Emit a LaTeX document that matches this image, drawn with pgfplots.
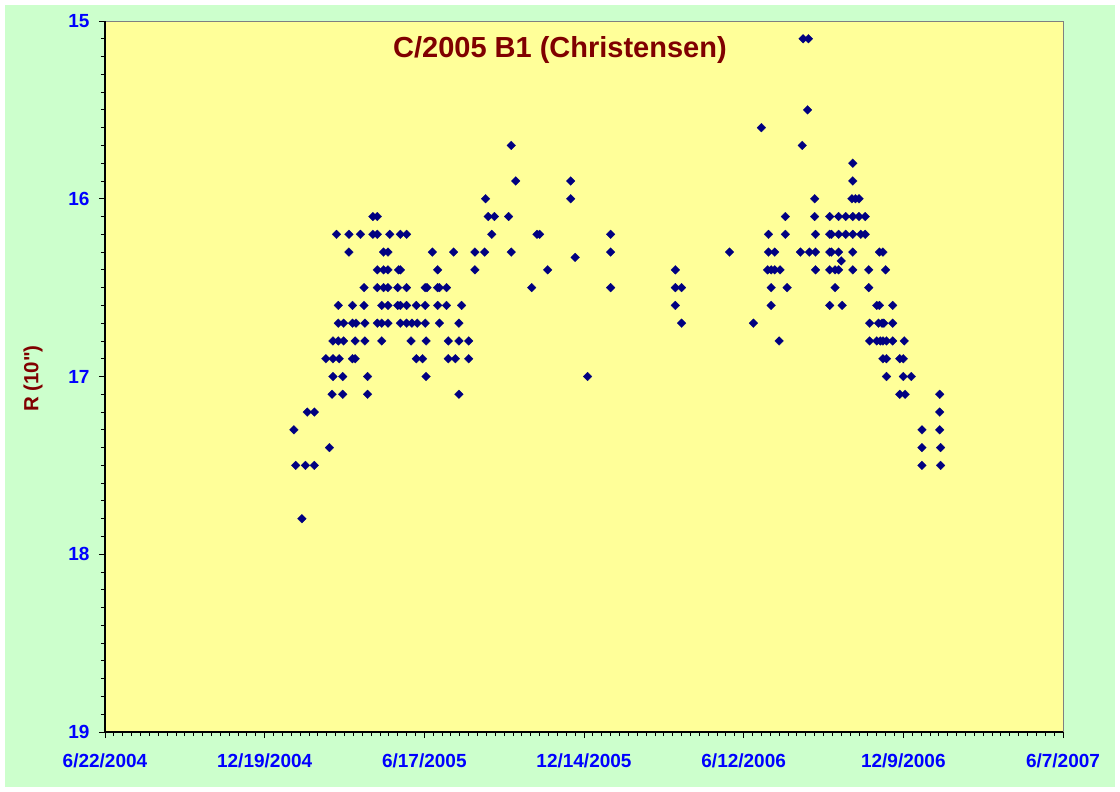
\documentclass[border=0pt]{standalone}
\usepackage{pgfplots}
\pgfplotsset{compat=1.18}
\usepackage{fontspec}
\setmainfont{Liberation Sans}
\newfontfamily\plainfont{Liberation Sans}
\definecolor{chartbg}{HTML}{CCFFCC}
\definecolor{plotbg}{HTML}{FFFF99}
\definecolor{navy}{HTML}{000080}
\definecolor{tickblue}{HTML}{0000FF}
\definecolor{darkred}{HTML}{800000}
\begin{document}
\begin{tikzpicture}
\useasboundingbox (0,0) rectangle (1120bp,792bp);
\fill[white] (0,0) rectangle (1120bp,792bp);
\fill[chartbg] (5bp,5bp) rectangle (1115bp,787bp);
\begin{axis}[
  at={(105bp,60bp)}, anchor=south west,
  scale only axis, width=958bp, height=711bp,
  xmin=0, xmax=1080, ymin=15, ymax=19, y dir=reverse,
  xtick={0,180,...,1080},
  xticklabels={6/22/2004,12/19/2004,6/17/2005,12/14/2005,6/12/2006,12/9/2006,6/7/2007},
  ytick={15,16,17,18,19},
  minor x tick num=17, minor y tick num=9,
  tick align=outside, xtick pos=bottom, ytick pos=left,
  major tick length=6bp, minor tick length=4bp,
  tick style={black, line width=0.9bp},
  axis line style={draw=none},
  axis background/.style={fill=plotbg},
  ticklabel style={font=\fontsize{19bp}{19bp}\selectfont\bfseries, text=tickblue},
  /pgf/number format/assume math mode=true,
  xticklabel style={yshift=-12bp},
  yticklabel style={xshift=-6bp},
  title={C/2005 B1 (Christensen)},
  title style={at={(axis description cs:0.4749,0.9514)}, anchor=center, yshift=0pt,
    font=\fontsize{29bp}{30bp}\selectfont\bfseries, text=darkred},
  ylabel={\plainfont\bfseries R (10")},
  ylabel style={at={(axis description cs:-0.0752,0.497)}, anchor=center, rotate=0,
    font=\fontsize{20.5bp}{22bp}\selectfont\bfseries, text=darkred},
  clip=false,
]
\addplot[only marks, mark=square*, mark size=3.1bp,
  mark options={rotate=45, fill=navy, draw=navy, line width=0.2bp}] table {
x y
787 15.1
793 15.1
792 15.5
740 15.6
458 15.7
786 15.7
843 15.8
463 15.9
525 15.9
843 15.9
429 16.0
525 16.0
800 16.0
842 16.0
846 16.0
850 16.0
302 16.1
307 16.1
432 16.1
439 16.1
455 16.1
767 16.1
800 16.1
817 16.1
827 16.1
835 16.1
843 16.1
850 16.1
857 16.1
261 16.2
275 16.2
288 16.2
302 16.2
307 16.2
321 16.2
333 16.2
340 16.2
436 16.2
487 16.2
490 16.2
570 16.2
748 16.2
767 16.2
801 16.2
817 16.2
819 16.2
827 16.2
835 16.2
843 16.2
852 16.2
857 16.2
275 16.3
314 16.3
319 16.3
369 16.3
393 16.3
417 16.3
428 16.3
458 16.3
570 16.3
704 16.3
748 16.3
755 16.3
784 16.3
794 16.3
801 16.3
817 16.3
819 16.3
827 16.3
843 16.3
873 16.3
877 16.3
530 16.33
830 16.35
307 16.4
314 16.4
319 16.4
331 16.4
333 16.4
375 16.4
417 16.4
499 16.4
643 16.4
747 16.4
751 16.4
755 16.4
761 16.4
801 16.4
817 16.4
823 16.4
827 16.4
843 16.4
861 16.4
880 16.4
292 16.5
307 16.5
314 16.5
319 16.5
330 16.5
340 16.5
361 16.5
363 16.5
375 16.5
377 16.5
385 16.5
481 16.5
570 16.5
643 16.5
650 16.5
751 16.5
769 16.5
823 16.5
861 16.5
263 16.6
279 16.6
292 16.6
312 16.6
319 16.6
330 16.6
333 16.6
340 16.6
351 16.6
361 16.6
375 16.6
385 16.6
402 16.6
643 16.6
751 16.6
817 16.6
831 16.6
870 16.6
873 16.6
888 16.6
263 16.7
269 16.7
279 16.7
283 16.7
293 16.7
307 16.7
312 16.7
319 16.7
333 16.7
340 16.7
346 16.7
352 16.7
361 16.7
377 16.7
399 16.7
650 16.7
731 16.7
862 16.7
872 16.7
876 16.7
878 16.7
888 16.7
257 16.8
263 16.8
269 16.8
282 16.8
293 16.8
312 16.8
345 16.8
362 16.8
387 16.8
399 16.8
410 16.8
760 16.8
862 16.8
870 16.8
874 16.8
877 16.8
881 16.8
888 16.8
901 16.8
249 16.9
257 16.9
264 16.9
279 16.9
282 16.9
351 16.9
358 16.9
387 16.9
395 16.9
410 16.9
877 16.9
881 16.9
896 16.9
900 16.9
257 17.0
268 17.0
296 17.0
362 17.0
544 17.0
881 17.0
900 17.0
909 17.0
256 17.1
268 17.1
296 17.1
399 17.1
896 17.1
902 17.1
941 17.1
228 17.2
236 17.2
941 17.2
213 17.3
921 17.3
941 17.3
253 17.4
921 17.4
942 17.4
215 17.5
226 17.5
236 17.5
921 17.5
942 17.5
222 17.8
};
\draw[gray, line width=1bp] (rel axis cs:0,1) -- (rel axis cs:1,1) -- (rel axis cs:1,0);
\draw[black, line width=1.2bp] (rel axis cs:0,1) -- (rel axis cs:0,0) -- (rel axis cs:1,0);
\end{axis}
\end{tikzpicture}
\end{document}
